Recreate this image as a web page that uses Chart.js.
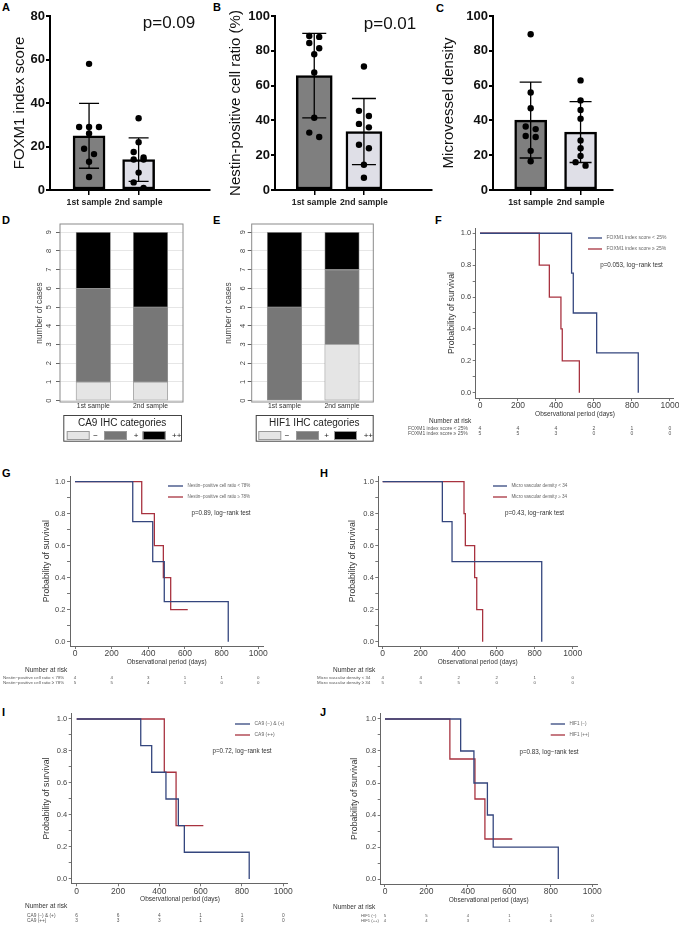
<!DOCTYPE html>
<html>
<head>
<meta charset="utf-8">
<title>FOXM1 / Nestin / MVD figure</title>
<script src="https://cdn.jsdelivr.net/npm/chart.js@4.4.1/dist/chart.umd.min.js"></script>
<style>
  html, body { margin: 0; padding: 0; background: #fff; }
  body { position: relative; width: 679px; height: 925px; overflow: hidden; font-family: "Liberation Sans", Arial, sans-serif; }
  canvas { position: absolute; }
  .tag { position: absolute; font-weight: bold; font-size: 11px; line-height: 11px; color: #000; }
</style>
</head>
<body>
<div class="tag" style="left:2px;top:2px">A</div>
<div class="tag" style="left:213px;top:2px">B</div>
<div class="tag" style="left:436px;top:3px">C</div>
<div class="tag" style="left:2px;top:215px">D</div>
<div class="tag" style="left:213px;top:215px">E</div>
<div class="tag" style="left:435px;top:215px">F</div>
<div class="tag" style="left:2px;top:468px">G</div>
<div class="tag" style="left:320px;top:468px">H</div>
<div class="tag" style="left:2px;top:707px">I</div>
<div class="tag" style="left:320px;top:707px">J</div>

<script>
// ---- A-C: paired samples, one dot per patient
const sampleLabels = ['1st sample', '2nd sample'];

const foxm1First = [58, 29, 29, 29, 26, 19, 16.5, 13, 6];
const foxm1Second = [33, 22, 17.5, 15, 14, 14, 8, 3.5, 1];
const foxm1Mean = [24.9, 14];
const foxm1Sd = [14.9, 10];

const nestinFirst = [88.5, 88, 84.5, 81.5, 78, 67.5, 41.5, 33, 30.5];
const nestinSecond = [71, 45.5, 42.5, 38, 36, 26, 24, 14.5, 7];
const nestinMean = [65.7, 33.6];
const nestinSd = [24.3, 19];

const mvdFirst = [89.5, 56, 47, 36.5, 35, 31, 30.5, 22.5, 16.5];
const mvdSecond = [63, 51.5, 46, 41, 28.5, 24, 19.5, 16, 14];
const mvdMean = [40.2, 33.3];
const mvdSd = [21.8, 17.5];

// ---- D-E: number of cases per IHC category (-, +, ++)
const ihcLevels = ['\u2212', '+', '++'];
const ca9Neg = [1, 1];
const ca9Pos = [5, 4];
const ca9PosPos = [3, 4];
const hif1Neg = [0, 3];
const hif1Pos = [5, 4];
const hif1PosPos = [4, 2];

// ---- F-J: Kaplan-Meier steps (days, survival) and number at risk
const riskTimes = [0, 200, 400, 600, 800, 1000];

const foxLowTime = [0, 482, 491, 614, 833];
const foxLowSurv = [1, 0.75, 0.5, 0.25, 0];
const foxHighTime = [0, 312, 365, 426, 433, 523];
const foxHighSurv = [1, 0.8, 0.6, 0.4, 0.2, 0];
const foxLowRisk = [4, 4, 4, 2, 1, 0];
const foxHighRisk = [5, 5, 3, 0, 0, 0];

const nesLowTime = [0, 315, 424, 487, 836];
const nesLowSurv = [1, 0.75, 0.5, 0.25, 0];
const nesHighTime = [0, 364, 433, 482, 522, 615];
const nesHighSurv = [1, 0.8, 0.6, 0.4, 0.2, 0.2];
const nesLowRisk = [4, 4, 3, 1, 1, 0];
const nesHighRisk = [5, 5, 4, 1, 0, 0];

const mvdLowTime = [0, 314, 365, 837];
const mvdLowSurv = [1, 0.75, 0.5, 0];
const mvdHighTime = [0, 428, 435, 484, 495, 526];
const mvdHighSurv = [1, 0.8, 0.6, 0.4, 0.2, 0];
const mvdLowRisk = [4, 4, 2, 2, 1, 0];
const mvdHighRisk = [5, 5, 5, 0, 0, 0];

const caLowTime = [0, 310, 363, 432, 492, 521, 835];
const caLowSurv = [1, 0.833, 0.667, 0.5, 0.333, 0.167, 0];
const caHighTime = [0, 424, 481, 613];
const caHighSurv = [1, 0.667, 0.333, 0.333];
const caLowRisk = [6, 6, 4, 1, 1, 0];
const caHighRisk = [3, 3, 3, 1, 0, 0];

const hifLowTime = [0, 365, 429, 494, 522, 836];
const hifLowSurv = [1, 0.8, 0.6, 0.4, 0.2, 0];
const hifHighTime = [0, 313, 434, 482, 614];
const hifHighSurv = [1, 0.75, 0.5, 0.25, 0.25];
const hifLowRisk = [5, 5, 4, 1, 1, 0];
const hifHighRisk = [4, 4, 3, 1, 0, 0];

const FONT = '"Liberation Sans", Arial, sans-serif';
const BLUE = '#34467e';
const RED = '#a8323f';
Chart.defaults.font.family = FONT;

function mkCanvas(b) {
    const c = document.createElement('canvas');
    c.width = b.w;
    c.height = b.h;
    c.style.left = b.x + 'px';
    c.style.top = b.y + 'px';
    c.style.width = b.w + 'px';
    c.style.height = b.h + 'px';
    document.body.appendChild(c);
    return c;
}

// pin the plot area to page coordinates
function fitArea(box, area, options) {
    const yw = area.l - box.x;
    const xh = box.y + box.h - area.b;
    options.layout = {
        autoPadding: false,
        padding: { left: 0, bottom: 0, top: area.t - box.y, right: box.x + box.w - area.r }
    };
    options.scales.y.afterFit = s => { s.width = yw; s.paddingTop = 0; s.paddingBottom = 0; };
    options.scales.x.afterFit = s => { s.height = xh; s.paddingLeft = 0; s.paddingRight = 0; };
}

// free text / extra drawing in page coordinates
function extrasPlugin(box, spec) {
    return {
        id: 'extras',
        afterDraw(chart) {
            const ctx = chart.ctx;
            ctx.save();
            ctx.translate(-box.x, -box.y);
            (spec.texts || []).forEach(t => {
                ctx.save();
                ctx.font = t.font;
                ctx.fillStyle = t.color || '#333';
                ctx.textAlign = t.align || 'center';
                ctx.textBaseline = 'middle';
                ctx.translate(t.x, t.y);
                if (t.rot) ctx.rotate(t.rot);
                ctx.fillText(t.text, 0, 0);
                ctx.restore();
            });
            if (spec.draw) spec.draw(chart, ctx);
            ctx.restore();
        }
    };
}

function swarm(vals, xc, unitsPerPx) {
    const sorted = vals.slice().sort((a, b) => b - a);
    const out = [];
    let row = [];
    const flush = () => {
        row.forEach((v, i) => out.push({ x: xc + (i - (row.length - 1) / 2) * 0.2, y: v }));
        row = [];
    };
    sorted.forEach(v => {
        if (row.length && row[0] - v >= 6 * unitsPerPx) flush();
        row.push(v);
    });
    flush();
    return out;
}

function errorBars(p) {
    return {
        id: 'errorBars',
        afterDatasetDraw(chart, args) {
            if (args.index !== 0) return;
            const ctx = chart.ctx, xs = chart.scales.x, ys = chart.scales.y;
            ctx.save();
            ctx.strokeStyle = '#000';
            ctx.lineWidth = 1.3;
            p.means.forEach((m, i) => {
                const x = xs.getPixelForValue(i + 1);
                const top = ys.getPixelForValue(m + p.sds[i]);
                const bot = ys.getPixelForValue(m - p.sds[i]);
                const hw = p.capW / 2;
                ctx.beginPath();
                ctx.moveTo(x, top); ctx.lineTo(x, bot);
                ctx.moveTo(x - hw, top); ctx.lineTo(x + hw, top);
                ctx.moveTo(x - hw, bot); ctx.lineTo(x + hw, bot);
                ctx.stroke();
            });
            ctx.restore();
        }
    };
}

function barPanel(p) {
    const canvas = mkCanvas(p.box);
    const unitsPerPx = p.yMax / (p.area.b - p.area.t);
    const dots = swarm(p.first, 1, unitsPerPx).concat(swarm(p.second, 2, unitsPerPx));
    const options = {
        responsive: false,
        animation: false,
        events: [],
        plugins: { legend: { display: false }, tooltip: { enabled: false } },
        scales: {
            x: {
                type: 'linear', min: p.xMin, max: p.xMax, offset: false,
                afterBuildTicks: s => { s.ticks = [{ value: 1 }, { value: 2 }]; },
                ticks: { callback: v => sampleLabels[v - 1], color: '#222', font: { size: 8.7, weight: 'bold' }, padding: 2, maxRotation: 0, autoSkip: false },
                grid: { offset: false, drawOnChartArea: false, tickLength: 5, color: '#000', lineWidth: 1.5 },
                border: { color: '#000', width: 2 }
            },
            y: {
                min: 0, max: p.yMax,
                ticks: { stepSize: 20, color: '#111', font: { size: 13, weight: 'bold' }, padding: 1 },
                grid: { drawOnChartArea: false, tickLength: 4, color: '#000', lineWidth: 2 },
                border: { color: '#000', width: 2 },
                title: {
                    display: true, text: p.title, color: '#111',
                    font: { size: 15, lineHeight: 1.2 },
                    padding: { top: p.titleX - p.box.x - 9, bottom: 0 }
                }
            }
        }
    };
    fitArea(p.box, p.area, options);
    new Chart(canvas, {
        type: 'bar',
        data: {
            datasets: [
                {
                    type: 'bar',
                    data: p.means.map((m, i) => ({ x: i + 1, y: m })),
                    backgroundColor: ['#7f7f7f', '#dfdfe7'],
                    borderColor: '#000',
                    borderWidth: 2.5,
                    borderSkipped: false,
                    barThickness: p.barW,
                    order: 2
                },
                {
                    type: 'scatter',
                    data: dots,
                    pointRadius: 3.2,
                    pointBackgroundColor: '#000',
                    pointBorderWidth: 0,
                    order: 1
                }
            ]
        },
        options: options,
        plugins: [
            errorBars(p),
            extrasPlugin(p.box, { texts: [{ text: p.pText, x: p.pX, y: p.pY, font: '17px ' + FONT, color: '#111' }] })
        ]
    });
}

function stackPanel(p) {
    const canvas = mkCanvas(p.box);
    const toXY = arr => arr.map((v, i) => ({ x: i + 1, y: v }));
    const colors = ['#e5e5e5', '#777777', '#000000'];
    const options = {
        responsive: false,
        animation: false,
        events: [],
        plugins: { legend: { display: false }, tooltip: { enabled: false } },
        scales: {
            x: {
                type: 'linear', stacked: true, min: p.xMin, max: p.xMax, offset: false,
                afterBuildTicks: s => { s.ticks = [{ value: 1 }, { value: 2 }]; },
                ticks: { callback: v => sampleLabels[v - 1], color: '#333', font: { size: 6.8 }, padding: 0.5, maxRotation: 0, autoSkip: false },
                grid: { display: false, drawTicks: false, offset: false },
                border: { display: false }
            },
            y: {
                stacked: true, min: -0.07, max: 9.44,
                ticks: { stepSize: 1, includeBounds: false, display: false },
                grid: { color: '#e6e6e6', tickColor: '#666', tickLength: 4 },
                border: { display: false }
            }
        }
    };
    fitArea(p.box, p.area, options);
    const L = p.legend;
    new Chart(canvas, {
        type: 'bar',
        data: {
            datasets: [p.neg, p.pos, p.posPos].map((arr, k) => ({
                label: ihcLevels[k],
                data: toXY(arr),
                backgroundColor: colors[k],
                borderColor: '#999',
                borderWidth: 0.8,
                borderSkipped: false,
                barThickness: p.barW
            }))
        },
        options: options,
        plugins: [extrasPlugin(p.box, {
            texts: [{ text: 'number of cases', x: p.titleX, y: (p.area.t + p.area.b) / 2, font: '8.3px ' + FONT, color: '#444', rot: -Math.PI / 2 }],
            draw(chart, ctx) {
                const ys = chart.scales.y, a = chart.chartArea;
                // frame
                ctx.strokeStyle = '#8a8a8a';
                ctx.lineWidth = 1;
                ctx.strokeRect(a.left + p.box.x, a.top + p.box.y, a.right - a.left, a.bottom - a.top);
                // rotated tick labels
                ctx.fillStyle = '#444';
                ctx.font = '7.5px ' + FONT;
                ctx.textAlign = 'center';
                ctx.textBaseline = 'middle';
                ys.ticks.forEach(t => {
                    ctx.save();
                    ctx.translate(p.tickX, ys.getPixelForValue(t.value) + p.box.y);
                    ctx.rotate(-Math.PI / 2);
                    ctx.fillText(String(t.value), 0, 0);
                    ctx.restore();
                });
                // legend box
                ctx.strokeStyle = '#444';
                ctx.strokeRect(L.x + 0.5, L.y + 0.5, L.w, L.h);
                ctx.fillStyle = '#222';
                ctx.font = '10px ' + FONT;
                ctx.fillText(p.legendTitle, L.x + L.w / 2, L.y + 8.5);
                ctx.font = '8px ' + FONT;
                L.swX.forEach((sx, k) => {
                    ctx.fillStyle = colors[k];
                    ctx.fillRect(sx, L.y + 16.5, 22.7, 8);
                    ctx.strokeStyle = '#999';
                    ctx.strokeRect(sx + 0.5, L.y + 16.5, 22, 8);
                    ctx.fillStyle = '#222';
                    ctx.fillText(ihcLevels[k], L.labX[k], L.y + 20.5);
                });
            }
        })]
    });
}

function kmPanel(p) {
    const canvas = mkCanvas(p.box);
    const options = {
        responsive: false,
        animation: false,
        events: [],
        plugins: { legend: { display: false }, tooltip: { enabled: false } },
        scales: {
            x: {
                type: 'linear', min: p.xMin, max: p.xMax,
                afterBuildTicks: s => { s.ticks = riskTimes.map(v => ({ value: v })); },
                ticks: { color: '#444', font: { size: 8.5 }, padding: 0, maxRotation: 0, autoSkip: false, callback: v => String(v) },
                grid: { drawOnChartArea: false, tickLength: 3, color: '#777' },
                border: { color: '#666', width: 1 }
            },
            y: {
                min: p.yMin, max: 1.033,
                ticks: {
                    stepSize: 0.1, includeBounds: false, color: '#444', font: { size: 7.5 }, padding: 1.5,
                    callback: v => (Math.round(v * 10) % 2 ? '' : v.toFixed(1))
                },
                grid: { drawOnChartArea: false, tickLength: 3, color: '#777' },
                border: { color: '#666', width: 1 }
            }
        }
    };
    fitArea(p.box, p.area, options);
    const curves = [
        { t: p.lowTime, s: p.lowSurv, color: BLUE },
        { t: p.highTime, s: p.highSurv, color: RED }
    ];
    const texts = [
        { text: 'Probability of survival', x: p.yTitleX, y: (p.area.t + p.area.b) / 2, font: '8.7px ' + FONT, color: '#333', rot: -Math.PI / 2 },
        { text: p.pText, x: p.pX, y: p.pY, font: '6.3px ' + FONT, color: '#333' },
        { text: 'Number at risk', x: p.riskTitleX, y: p.riskTitleY, font: '6.5px ' + FONT, color: '#333', align: 'left' }
    ];
    p.labels.forEach((lab, k) => {
        texts.push({ text: lab, x: p.legX2 + 4.5, y: p.legY[k], font: p.legFont + 'px ' + FONT, color: '#666', align: 'left' });
        texts.push({ text: lab, x: p.riskLabelX, y: p.riskRowY[k], font: p.riskFont + 'px ' + FONT, color: '#555', align: 'left' });
    });
    new Chart(canvas, {
        type: 'line',
        data: {
            datasets: curves.map(c => ({
                data: c.t.map((t, i) => ({ x: t, y: c.s[i] })),
                borderColor: c.color,
                borderWidth: 1.3,
                pointRadius: 0,
                stepped: 'before',
                fill: false
            }))
        },
        options: options,
        plugins: [extrasPlugin(p.box, {
            texts: texts,
            draw(chart, ctx) {
                const xs = chart.scales.x;
                ctx.font = '6.5px ' + FONT;
                ctx.fillStyle = '#333';
                ctx.textAlign = 'center';
                ctx.textBaseline = 'middle';
                ctx.fillText('Observational period (days)', xs.getPixelForValue(500) + p.box.x, p.area.b + 16);
                // legend samples
                curves.forEach((c, k) => {
                    ctx.strokeStyle = c.color;
                    ctx.lineWidth = 1.3;
                    ctx.beginPath();
                    ctx.moveTo(p.legX1, p.legY[k]);
                    ctx.lineTo(p.legX2, p.legY[k]);
                    ctx.stroke();
                });
                // number at risk
                ctx.font = p.riskFont + 'px ' + FONT;
                ctx.fillStyle = '#555';
                [p.lowRisk, p.highRisk].forEach((row, k) => {
                    riskTimes.forEach((t, j) => {
                        ctx.fillText(String(row[j]), xs.getPixelForValue(t) + p.box.x, p.riskRowY[k]);
                    });
                });
            }
        })]
    });
}

// ---------- A, B, C
barPanel({
    box: { x: 0, y: 0, w: 225, h: 210 }, area: { l: 50, t: 16, r: 210, b: 190 },
    xMin: 0.212, xMax: 3.44, yMax: 80, barW: 32, capW: 20,
    title: 'FOXM1 index score', titleX: 20,
    pText: 'p=0.09', pX: 169, pY: 23,
    first: foxm1First, second: foxm1Second, means: foxm1Mean, sds: foxm1Sd
});
barPanel({
    box: { x: 225, y: 0, w: 215, h: 210 }, area: { l: 275, t: 16, r: 432, b: 190 },
    xMin: 0.21, xMax: 3.37, yMax: 100, barW: 36, capW: 24,
    title: 'Nestin-positive cell ratio (%)', titleX: 236,
    pText: 'p=0.01', pX: 390, pY: 24,
    first: nestinFirst, second: nestinSecond, means: nestinMean, sds: nestinSd
});
barPanel({
    box: { x: 440, y: 0, w: 239, h: 210 }, area: { l: 493, t: 16, r: 613, b: 190 },
    xMin: 0.245, xMax: 2.65, yMax: 100, barW: 32, capW: 22,
    title: 'Microvessel density', titleX: 449,
    pText: '', pX: 0, pY: 0,
    first: mvdFirst, second: mvdSecond, means: mvdMean, sds: mvdSd
});

// ---------- D, E
stackPanel({
    box: { x: 0, y: 212, w: 225, h: 232 }, area: { l: 60, t: 224, r: 183, b: 402 },
    xMin: 0.418, xMax: 2.568, barW: 34.5, titleX: 39.3, tickX: 49.3,
    neg: ca9Neg, pos: ca9Pos, posPos: ca9PosPos,
    legendTitle: 'CA9 IHC categories',
    legend: { x: 63.3, y: 415, w: 117.7, h: 25.7, swX: [66.7, 104, 142.7], labX: [95.7, 136, 176.7] }
});
stackPanel({
    box: { x: 225, y: 212, w: 175, h: 232 }, area: { l: 251.7, t: 224, r: 373.3, b: 402 },
    xMin: 0.43, xMax: 2.544, barW: 34.5, titleX: 229, tickX: 243.3,
    neg: hif1Neg, pos: hif1Pos, posPos: hif1PosPos,
    legendTitle: 'HIF1 IHC categories',
    legend: { x: 255.7, y: 415, w: 117, h: 25.7, swX: [258.3, 296, 334], labX: [287, 326.7, 368.3] }
});

// ---------- F - J
kmPanel({
    box: { x: 400, y: 212, w: 279, h: 228 }, area: { l: 475.7, t: 228, r: 673, b: 398 },
    xMin: -22.6, xMax: 1015.8, yMin: -0.033, yTitleX: 452,
    lowTime: foxLowTime, lowSurv: foxLowSurv, highTime: foxHighTime, highSurv: foxHighSurv,
    lowRisk: foxLowRisk, highRisk: foxHighRisk,
    labels: ['FOXM1 index score < 25%', 'FOXM1 index score \u2265 25%'],
    legX1: 588, legX2: 602, legY: [238, 249], legFont: 5,
    pText: 'p=0.053, log\u2212rank test', pX: 631.5, pY: 265,
    riskTitleX: 429, riskTitleY: 421, riskLabelX: 408, riskRowY: [428.5, 434], riskFont: 5
});
kmPanel({
    box: { x: 0, y: 465, w: 335, h: 225 }, area: { l: 70, t: 476.4, r: 263, b: 646 },
    xMin: -27.3, xMax: 1025.6, yMin: -0.027, yTitleX: 46.7,
    lowTime: nesLowTime, lowSurv: nesLowSurv, highTime: nesHighTime, highSurv: nesHighSurv,
    lowRisk: nesLowRisk, highRisk: nesHighRisk,
    labels: ['Nestin\u2212positive cell ratio < 78%', 'Nestin\u2212positive cell ratio \u2265 78%'],
    legX1: 168, legX2: 183, legY: [486, 497], legFont: 4.5,
    pText: 'p=0.89, log\u2212rank test', pX: 221, pY: 513,
    riskTitleX: 25, riskTitleY: 670, riskLabelX: 3, riskRowY: [677.7, 682.7], riskFont: 4.4
});
kmPanel({
    box: { x: 300, y: 465, w: 379, h: 225 }, area: { l: 378.3, t: 476.4, r: 577, b: 646 },
    xMin: -23, xMax: 1022.6, yMin: -0.027, yTitleX: 352.7,
    lowTime: mvdLowTime, lowSurv: mvdLowSurv, highTime: mvdHighTime, highSurv: mvdHighSurv,
    lowRisk: mvdLowRisk, highRisk: mvdHighRisk,
    labels: ['Micro vascular density < 34', 'Micro vascular density \u2265 34'],
    legX1: 493, legX2: 507, legY: [486, 497], legFont: 4.6,
    pText: 'p=0.43, log\u2212rank test', pX: 534.5, pY: 513,
    riskTitleX: 333, riskTitleY: 670, riskLabelX: 317, riskRowY: [677.7, 683], riskFont: 4.4
});
kmPanel({
    box: { x: 0, y: 703, w: 335, h: 222 }, area: { l: 71.7, t: 713.7, r: 287, b: 883.3 },
    xMin: -24.2, xMax: 1017.9, yMin: -0.027, yTitleX: 46.7,
    lowTime: caLowTime, lowSurv: caLowSurv, highTime: caHighTime, highSurv: caHighSurv,
    lowRisk: caLowRisk, highRisk: caHighRisk,
    labels: ['CA9 (\u2212) & (+)', 'CA9 (++)'],
    legX1: 235, legX2: 250, legY: [724, 735], legFont: 5,
    pText: 'p=0.72, log\u2212rank test', pX: 242, pY: 751,
    riskTitleX: 25, riskTitleY: 906.7, riskLabelX: 27, riskRowY: [915.7, 920.3], riskFont: 4.8
});
kmPanel({
    box: { x: 300, y: 703, w: 379, h: 222 }, area: { l: 380.7, t: 713.7, r: 597, b: 884 },
    xMin: -20.7, xMax: 1022.7, yMin: -0.031, yTitleX: 355,
    lowTime: hifLowTime, lowSurv: hifLowSurv, highTime: hifHighTime, highSurv: hifHighSurv,
    lowRisk: hifLowRisk, highRisk: hifHighRisk,
    labels: ['HIF1 (\u2212)', 'HIF1 (++)'],
    legX1: 550.7, legX2: 565, legY: [724, 735], legFont: 4.6,
    pText: 'p=0.83, log\u2212rank test', pX: 549, pY: 752,
    riskTitleX: 333, riskTitleY: 907.7, riskLabelX: 361, riskRowY: [916, 920.7], riskFont: 4.2
});
</script>
</body>
</html>
